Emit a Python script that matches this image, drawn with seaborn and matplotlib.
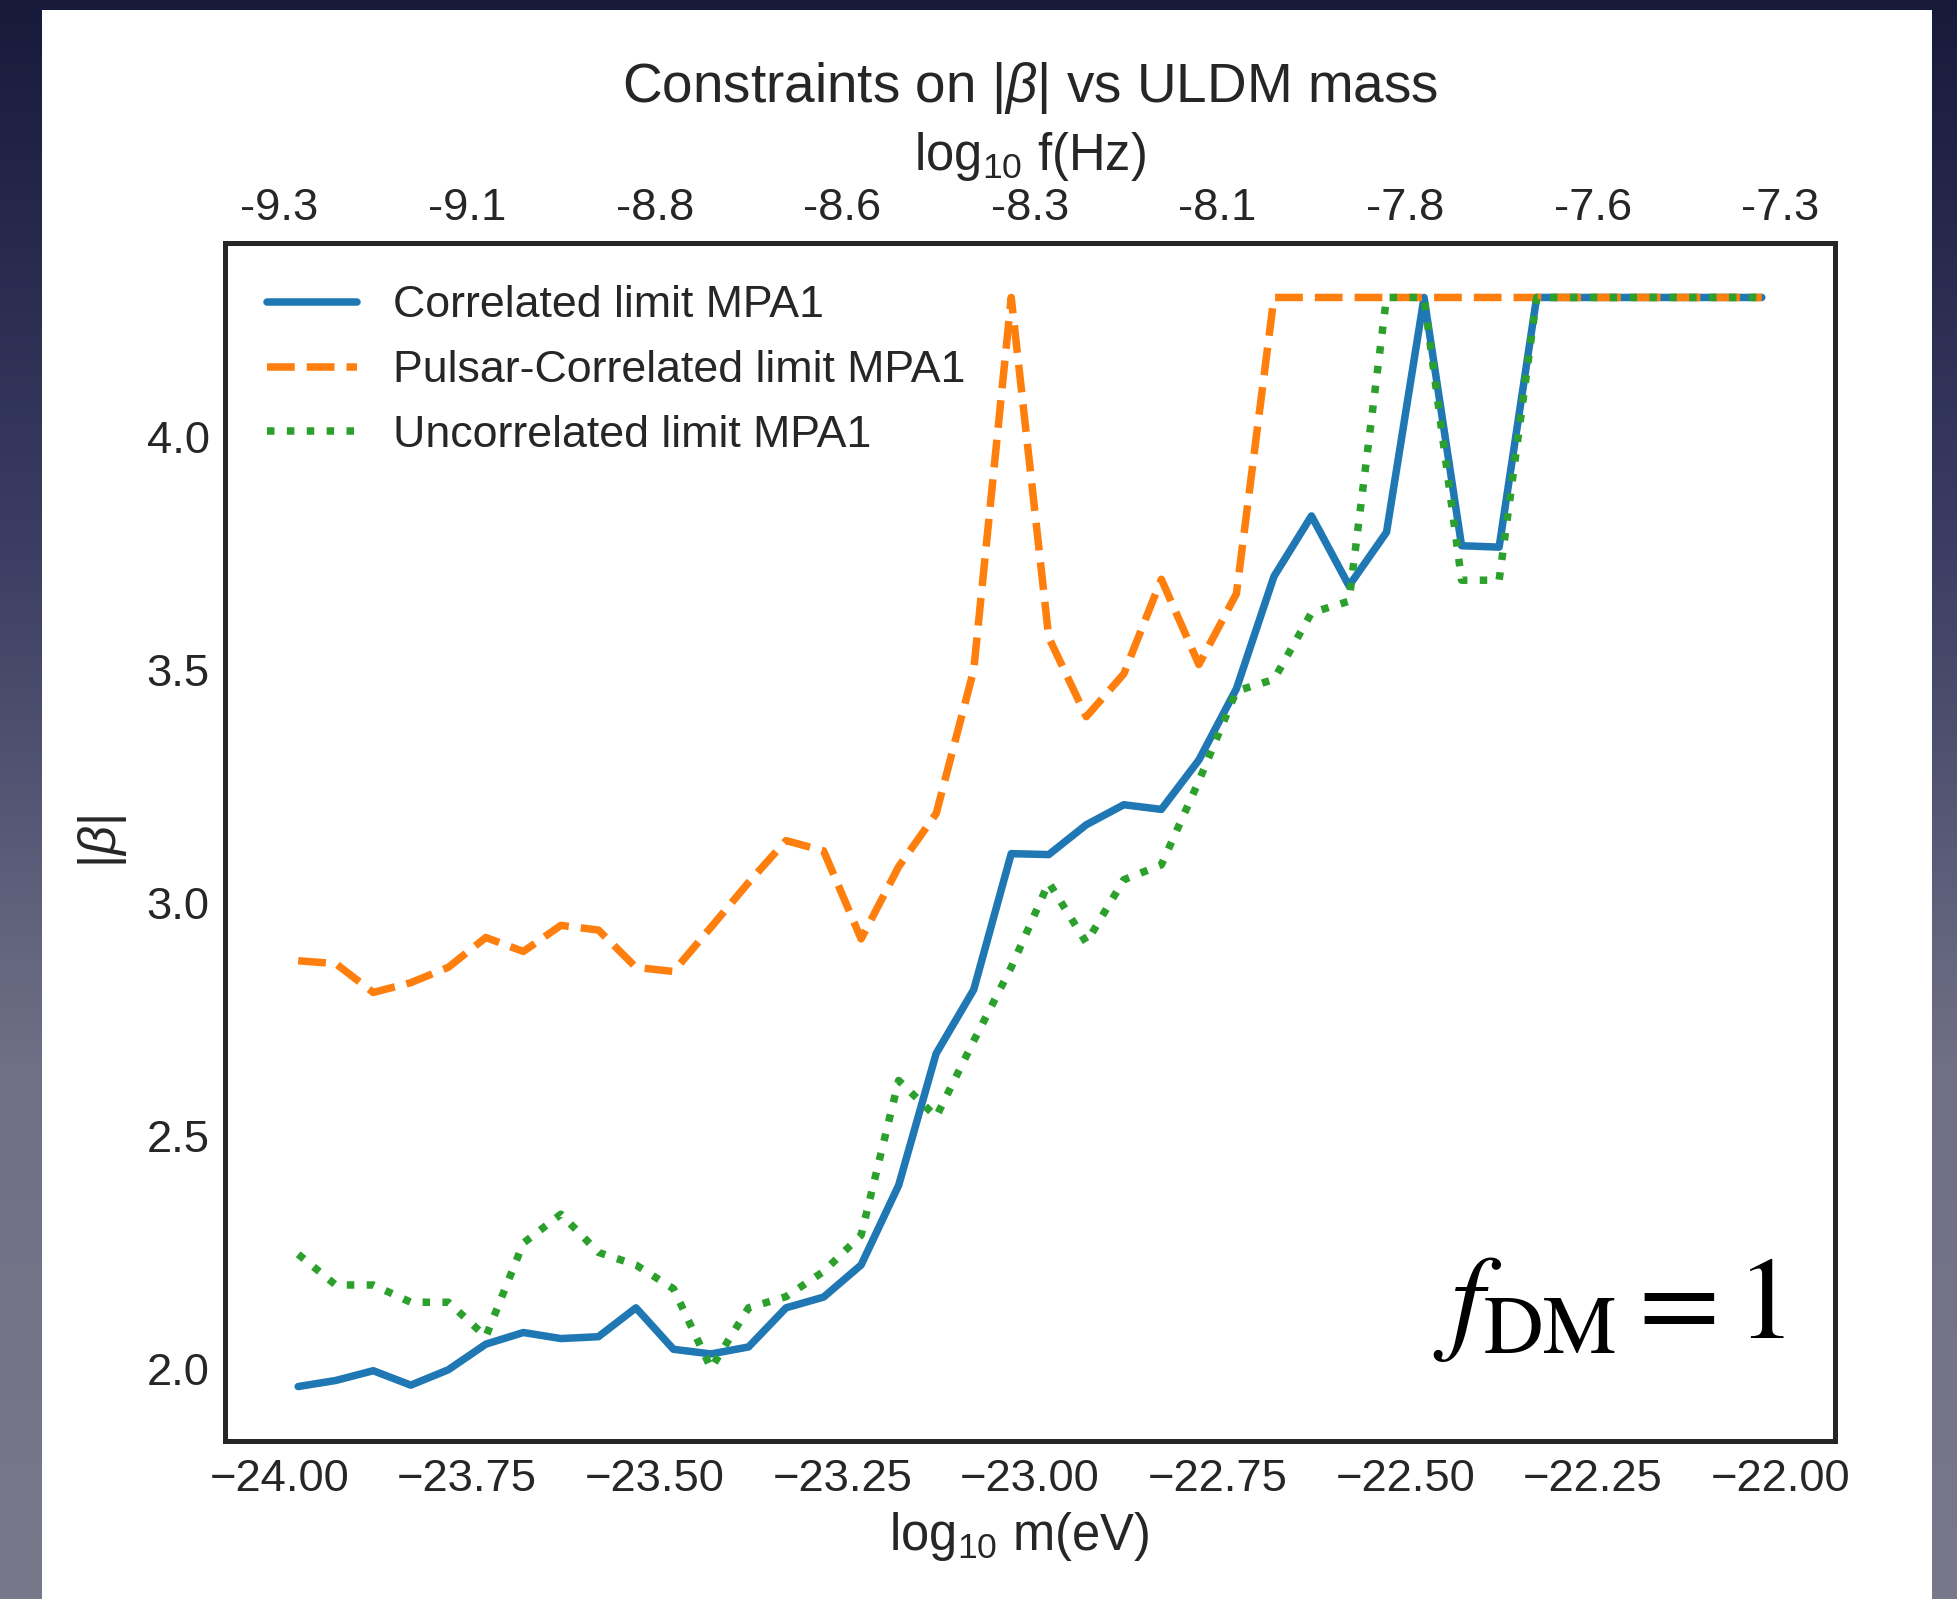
import numpy as np
import matplotlib
matplotlib.use("Agg")
import matplotlib.pyplot as plt
from matplotlib.colors import LinearSegmentedColormap
from matplotlib.patches import Rectangle
import seaborn as sns

# ULDM mass grid (log10 of mass in eV)
log10_m = [-23.975, -23.925, -23.875, -23.825, -23.775, -23.725, -23.675, -23.625,
           -23.575, -23.525, -23.475, -23.425, -23.375, -23.325, -23.275, -23.225,
           -23.175, -23.125, -23.075, -23.025, -22.975, -22.925, -22.875, -22.825,
           -22.775, -22.725, -22.675, -22.625, -22.575, -22.525, -22.475, -22.425,
           -22.375, -22.325, -22.275, -22.225, -22.175, -22.125, -22.075, -22.025]

# |beta| limits for the MPA1 equation of state
beta_correlated = [1.962, 1.975, 1.996, 1.965, 1.998, 2.053, 2.078, 2.065, 2.069, 2.131,
                   2.042, 2.032, 2.047, 2.131, 2.154, 2.223, 2.394, 2.677, 2.814, 3.106,
                   3.104, 3.168, 3.211, 3.201, 3.307, 3.460, 3.701, 3.831, 3.681, 3.796,
                   4.300, 3.767, 3.764, 4.300, 4.300, 4.300, 4.300, 4.300, 4.300, 4.300]

beta_pulsar = [2.876, 2.870, 2.808, 2.829, 2.862, 2.926, 2.896, 2.952, 2.942, 2.862,
               2.853, 2.948, 3.044, 3.134, 3.112, 2.923, 3.078, 3.192, 3.500, 4.300,
               3.570, 3.400, 3.492, 3.695, 3.512, 3.664, 4.300, 4.300, 4.300, 4.300,
               4.300, 4.300, 4.300, 4.300, 4.300, 4.300, 4.300, 4.300, 4.300, 4.300]

beta_uncorrelated = [2.246, 2.180, 2.180, 2.143, 2.143, 2.069, 2.270, 2.332, 2.250, 2.223,
                     2.172, 2.001, 2.131, 2.155, 2.209, 2.287, 2.619, 2.541, 2.704, 2.862,
                     3.044, 2.915, 3.050, 3.082, 3.262, 3.455, 3.480, 3.623, 3.648, 4.300,
                     4.300, 3.693, 3.693, 4.300, 4.300, 4.300, 4.300, 4.300, 4.300, 4.300]

mass_ticks = [-24.0, -23.75, -23.5, -23.25, -23.0, -22.75, -22.5, -22.25, -22.0]
freq_tick_labels = ["-9.3", "-9.1", "-8.8", "-8.6", "-8.3", "-8.1", "-7.8", "-7.6", "-7.3"]
beta_ticks = [2.0, 2.5, 3.0, 3.5, 4.0]

series_labels = ["Correlated limit MPA1", "Pulsar-Correlated limit MPA1",
                 "Uncorrelated limit MPA1"]

sns.set_theme(style="white")
plt.rcParams["font.family"] = ["Liberation Sans", "DejaVu Sans"]
plt.rcParams["mathtext.fontset"] = "custom"
plt.rcParams["mathtext.rm"] = "Liberation Sans"
plt.rcParams["mathtext.it"] = "Liberation Sans:italic"
plt.rcParams["mathtext.bf"] = "Liberation Sans:bold"

TEXT = ".15"
TICK_FS = 32.7
LEGEND_FS = 32.2
LABEL_FS = 36.5
LW = 5.4
SPINE_W = 3.6

W, H = 1957, 1599
fig = plt.figure(figsize=(W / 100, H / 100), dpi=100)

# slide backdrop with a white panel
bg = fig.add_axes([0, 0, 1, 1], zorder=-10)
bg.set_axis_off()
cmap = LinearSegmentedColormap.from_list("slide", ["#181a3c", "#3a3c62", "#6f7086", "#77788a"])
bg.imshow(np.linspace(0, 1, 512)[:, None], aspect="auto", cmap=cmap,
          extent=[0, 1, 0, 1], origin="upper")
bg.add_patch(Rectangle((42 / W, 0), (1932 - 42) / W, 1 - 10 / H,
                       facecolor="white", edgecolor="none", transform=bg.transAxes))
bg.set_xlim(0, 1)
bg.set_ylim(0, 1)

ax = fig.add_axes([225 / W, 1 - 1441 / H, (1835 - 225) / W, (1441 - 243) / H])
ax.set_facecolor("white")

sns.lineplot(x=log10_m, y=beta_correlated, ax=ax, color="#1f77b4", lw=LW,
             linestyle="-", label=series_labels[0])
sns.lineplot(x=log10_m, y=beta_pulsar, ax=ax, color="#ff7f0e", lw=LW,
             linestyle="--", label=series_labels[1])
sns.lineplot(x=log10_m, y=beta_uncorrelated, ax=ax, color="#2ca02c", lw=LW,
             linestyle=":", label=series_labels[2])

ax.set_xticks(mass_ticks)
ax.set_yticks(beta_ticks)
ax.tick_params(axis="both", length=0, labelsize=TICK_FS, labelcolor=TEXT)
ax.tick_params(axis="x", pad=13)
ax.tick_params(axis="y", pad=11)
ax.set_xlabel("log$_{10}$ m(eV)", fontsize=LABEL_FS, color=TEXT, labelpad=7.5)
ax.xaxis.label.set_x(0.4935)
ax.set_ylabel(r"$|\beta|$", fontsize=LABEL_FS, color=TEXT, labelpad=13)

leg = ax.legend(loc="upper left", frameon=False, fontsize=LEGEND_FS, labelspacing=0.53,
                borderaxespad=0.55)
for t in leg.get_texts():
    t.set_color(TEXT)

# frequency axis along the top
ax2 = ax.twiny()
ax2.set_xlim(ax.get_xlim())
ax2.set_xticks(mass_ticks)
ax2.set_xticklabels(freq_tick_labels)
ax2.tick_params(axis="x", length=0, labelsize=TICK_FS, labelcolor=TEXT, pad=10)
ax2.set_xlabel("log$_{10}$ f(Hz)", fontsize=LABEL_FS, color=TEXT, labelpad=13)

for a in (ax, ax2):
    for s in a.spines.values():
        s.set_linewidth(SPINE_W)
        s.set_color(TEXT)

fig.text(1030 / W, 1 - 88 / H, r"Constraints on $|\beta|$ vs ULDM mass",
         ha="center", va="center", fontsize=39.5, color=TEXT)

fig.text(1785 / W, 1 - 1338 / H, r"$f_{\mathrm{DM}} = 1$", ha="right", va="baseline",
         fontsize=85, color="black", math_fontfamily="stix")

fig.savefig("out.png", dpi=100)
